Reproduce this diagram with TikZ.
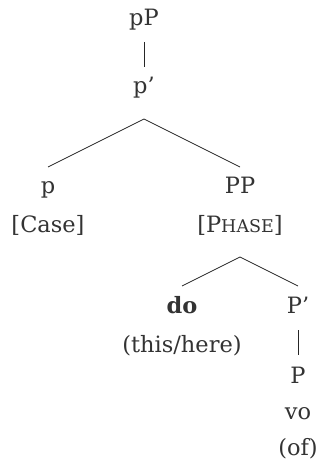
\documentclass[tikz,border=0pt]{standalone}
\usepackage{fontspec}
\setmainfont{DejaVu Serif}
\newcommand{\fakesc}[1]{{\fontsize{17.5}{17.5}\selectfont #1}}
\begin{document}
\begin{tikzpicture}[x=1pt, y=-1pt,
    cat/.style={anchor=base, align=center, inner sep=0pt, text=black!80,
        font=\fontsize{22.5}{39}\selectfont},
    branch/.style={draw=black!85, line width=0.8pt}]
    \useasboundingbox (0,0) rectangle (321,468);

    % top projection
    \node[cat] (pP) at (144,26) {pP};
    \node[cat] (p1) at (144,94) {p'};

    % p and its complement
    \node[cat] (p) at (48,232) {p\\{[Case]}};
    \node[cat] (PP) at (240,232) {PP\\{[P\fakesc{HASE}]}};

    % inside PP
    \node[cat] (do) at (182,352) {\textbf{do}\\(this/here)};
    \node[cat] (P1) at (298,313) {P'};
    \node[cat, font=\fontsize{22.5}{36}\selectfont] (P) at (298,455) {P\\vo\\(of)};

    % branches
    \draw[branch] ([yshift=-16pt]pP.base) -- ([yshift=27pt]p1.base);
    \draw[branch] ([yshift=65pt]p.base) -- ([yshift=-25pt]p1.base) -- ([yshift=65pt]PP.base);
    \draw[branch] ([yshift=66pt]do.base) -- ([yshift=-25pt]PP.base) -- ([yshift=27pt]P1.base);
    \draw[branch] ([yshift=-17pt]P1.base) -- ([yshift=100pt]P.base);
\end{tikzpicture}
\end{document}
